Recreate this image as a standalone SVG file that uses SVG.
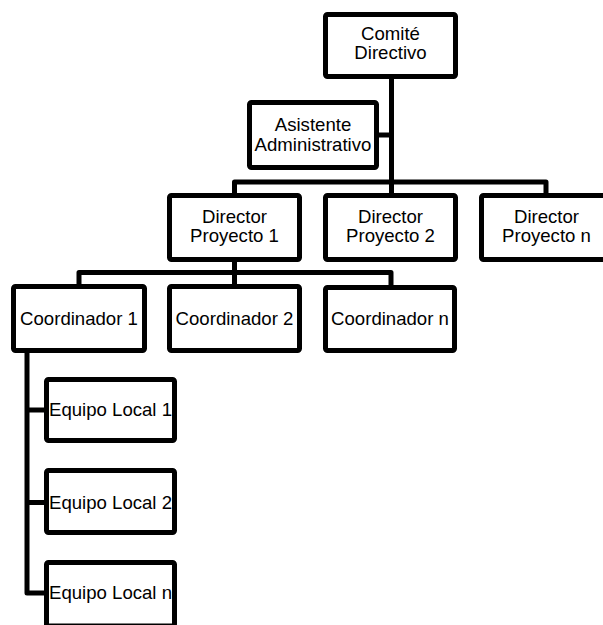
<svg xmlns="http://www.w3.org/2000/svg" width="603" height="625" viewBox="0 0 603 625">
  <style>
    .box { fill: #ffffff; stroke: #000000; stroke-width: 5; stroke-linejoin: round; }
    .lbl { font-family: "Liberation Sans", Arial, sans-serif; font-size: 18.6px; fill: #000000; text-anchor: middle; }
    .link { fill: none; stroke: #000000; stroke-width: 5; stroke-linejoin: round; stroke-linecap: butt; }
  </style>

  <rect x="0" y="0" width="603" height="625" fill="#ffffff"/>

  <!-- connectors -->
  <g id="connectors">
    <path class="link" d="M391.5 79 V193"/>
    <path class="link" d="M379 135 H391.5"/>
    <path class="link" d="M234.5 193 V182 H546 V193"/>
    <path class="link" d="M234.5 262 V285"/>
    <path class="link" d="M79 284 V272.5 H391 V285"/>
    <path class="link" d="M27 353 V593 H44"/>
    <path class="link" d="M27 410 H44"/>
    <path class="link" d="M27 502.5 H44"/>
  </g>

  <!-- top level -->
  <g id="comite">
    <rect class="box" x="325.5" y="14.5" width="130" height="62" rx="2"/>
    <text class="lbl" x="390.5" y="40">Comité</text>
    <text class="lbl" x="390.5" y="59">Directivo</text>
  </g>

  <g id="asistente">
    <rect class="box" x="249.5" y="102.5" width="127" height="65" rx="2"/>
    <text class="lbl" x="313" y="131">Asistente</text>
    <text class="lbl" x="313" y="151">Administrativo</text>
  </g>

  <!-- project directors -->
  <g id="director-1">
    <rect class="box" x="169.5" y="195.5" width="130" height="64" rx="2"/>
    <text class="lbl" x="234.5" y="223">Director</text>
    <text class="lbl" x="234.5" y="242">Proyecto 1</text>
  </g>
  <g id="director-2">
    <rect class="box" x="325.5" y="195.5" width="130" height="64" rx="2"/>
    <text class="lbl" x="390.5" y="223">Director</text>
    <text class="lbl" x="390.5" y="242">Proyecto 2</text>
  </g>
  <g id="director-n">
    <rect class="box" x="481.5" y="195.5" width="130" height="64" rx="2"/>
    <text class="lbl" x="546.5" y="223">Director</text>
    <text class="lbl" x="546.5" y="242">Proyecto n</text>
  </g>

  <!-- coordinators -->
  <g id="coordinador-1">
    <rect class="box" x="13.5" y="286.5" width="131" height="64" rx="2"/>
    <text class="lbl" x="79" y="325">Coordinador 1</text>
  </g>
  <g id="coordinador-2">
    <rect class="box" x="169.5" y="286.5" width="130" height="64" rx="2"/>
    <text class="lbl" x="234.5" y="325">Coordinador 2</text>
  </g>
  <g id="coordinador-n">
    <rect class="box" x="325.5" y="287.5" width="129" height="63" rx="2"/>
    <text class="lbl" x="390" y="325">Coordinador n</text>
  </g>

  <!-- local teams -->
  <g id="equipo-1">
    <rect class="box" x="46.5" y="379.5" width="128" height="61" rx="2"/>
    <text class="lbl" x="110.5" y="416">Equipo Local 1</text>
  </g>
  <g id="equipo-2">
    <rect class="box" x="46.5" y="470.5" width="128" height="62" rx="2"/>
    <text class="lbl" x="110.5" y="509">Equipo Local 2</text>
  </g>
  <g id="equipo-n">
    <rect class="box" x="46.5" y="562.5" width="128" height="63.5" rx="2"/>
    <text class="lbl" x="110.5" y="599">Equipo Local n</text>
  </g>
</svg>
